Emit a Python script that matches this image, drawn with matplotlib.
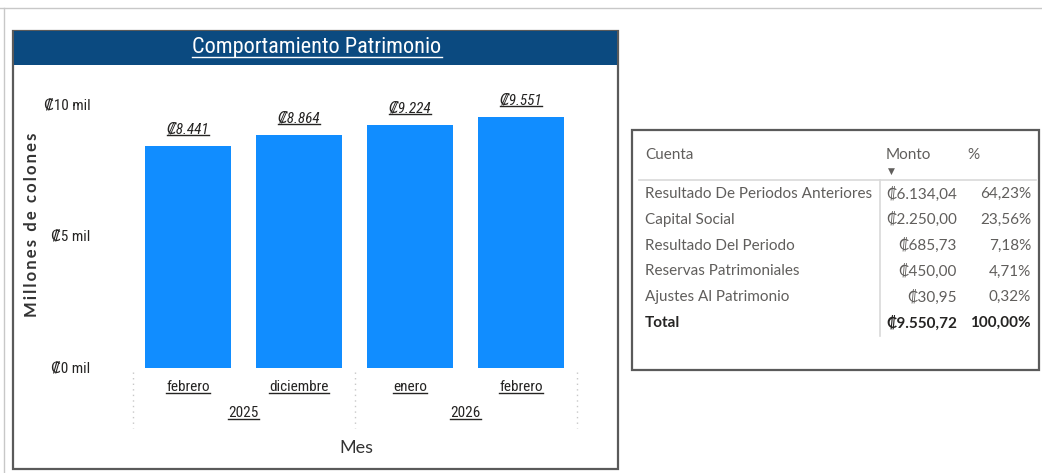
import matplotlib
matplotlib.use("Agg")
import matplotlib.pyplot as plt
from matplotlib.patches import Rectangle
from matplotlib.lines import Line2D
from matplotlib.transforms import blended_transform_factory

W, H = 1042, 473

# datos del grafico
meses = ["febrero", "diciembre", "enero", "febrero"]
anios = ["2025", "2026"]
meses_por_anio = [2, 2]
patrimonio = [8.441, 8.864, 9.224, 9.551]   # miles de millones
etiquetas = ["₡8.441", "₡8.864", "₡9.224", "₡9.551"]
yticks = [0, 5, 10]
ytick_labels = ["₡0 mil", "₡5 mil", "₡10 mil"]

# datos de la tabla
cuentas = ["Resultado De Periodos Anteriores", "Capital Social", "Resultado Del Periodo",
           "Reservas Patrimoniales", "Ajustes Al Patrimonio"]
montos = ["₡6.134,04", "₡2.250,00", "₡685,73", "₡450,00", "₡30,95"]
porcentajes = ["64,23%", "23,56%", "7,18%", "4,71%", "0,32%"]
total_monto = "₡9.550,72"
total_pct = "100,00%"

NARROW = ["Roboto Condensed", "DejaVu Sans"]
TABLA = ["Lato", "DejaVu Sans"]
BLUE = "#118DFF"


def fx(px):
    return px / W


def fy(py):
    return 1 - py / H


fig = plt.figure(figsize=(W / 100, H / 100), dpi=100)
fig.patch.set_facecolor("white")

# marco exterior
fig.add_artist(Line2D([0, 1], [fy(8), fy(8)], color="#c8c8c8", lw=1))
fig.add_artist(Line2D([fx(4), fx(4)], [fy(8), 0], color="#c8c8c8", lw=1))

# panel del grafico
fig.add_artist(Rectangle((fx(13), fy(469)), fx(618) - fx(13), fy(31) - fy(469),
                         transform=fig.transFigure, fill=False, ec="#5a5a5a", lw=1.6))
fig.add_artist(Rectangle((fx(14), fy(65)), fx(617) - fx(14), fy(31) - fy(65),
                         transform=fig.transFigure, color="#0B4A80", lw=0))
titulo = fig.text(fx(317), fy(48), "Comportamiento Patrimonio", color="white",
                  fontsize=16, family=NARROW, ha="center", va="center")

# ejes de barras
ax = fig.add_axes([fx(132.5), fy(368), fx(576.5) - fx(132.5), fy(105) - fy(368)])
x = list(range(len(meses)))
ax.bar(x, patrimonio, width=0.77, color=BLUE)
ax.set_xlim(-0.5, len(meses) - 0.5)
ax.set_ylim(0, 10)
for s in ax.spines.values():
    s.set_visible(False)
ax.set_xticks([])
ax.set_yticks([])

trans = blended_transform_factory(ax.transData, fig.transFigure)
subrayar = []

for t, lab in zip(yticks, ytick_labels):
    ax.text(-0.5 - 0.38, t, lab, ha="right", va="center", fontsize=11,
            family=NARROW, color="#252423")

for xi, v, lab in zip(x, patrimonio, etiquetas):
    t = ax.annotate(lab, (xi, v), xytext=(0, 7), textcoords="offset points",
                    ha="center", va="bottom", fontsize=11, family=NARROW,
                    style="italic", color="#252423")
    subrayar.append(t)

for xi, m in zip(x, meses):
    t = ax.text(xi, fy(387), m, transform=trans, ha="center", va="center",
                fontsize=11, family=NARROW, color="#252423")
    subrayar.append(t)

inicio = 0
seps = [-0.5]
for a, n in zip(anios, meses_por_anio):
    centro = inicio + (n - 1) / 2
    t = ax.text(centro, fy(413), a, transform=trans, ha="center", va="center",
                fontsize=11, family=NARROW, color="#252423")
    subrayar.append(t)
    inicio += n
    seps.append(inicio - 0.5)

for sx in seps:
    ax.add_line(Line2D([sx, sx], [fy(372), fy(428)], transform=trans,
                       color="#c8c8c8", lw=1, ls=(0, (1, 3)), clip_on=False))

fig.text(fx(356), fy(448), "Mes", ha="center", va="center", fontsize=13,
         family=TABLA, color="#333333")
fig.text(fx(32), fy(225), "\u2009".join("Millones de colones"),
         rotation=90, ha="center", va="center", fontsize=12,
         family=TABLA, weight="bold", color="#333333")

# tabla
fig.add_artist(Rectangle((fx(632), fy(370)), fx(1039) - fx(632), fy(130) - fy(370),
                         transform=fig.transFigure, fill=False, ec="#5a5a5a", lw=1.6))
gris = "#605E5C"
FS = 11
fig.text(fx(645), fy(155), "Cuenta", fontsize=FS, family=TABLA, color=gris, va="center")
fig.text(fx(886), fy(155), "Monto", fontsize=FS, family=TABLA, color=gris, va="center")
fig.text(fx(967), fy(155), "%", fontsize=FS, family=TABLA, color=gris, va="center")
fig.text(fx(891), fy(171), "▼", fontsize=6.5, family=["DejaVu Sans"], color=gris,
         ha="center", va="center")
fig.add_artist(Line2D([fx(639), fx(1036)], [fy(180), fy(180)], color="#d9d9d9", lw=1.2))
fig.add_artist(Line2D([fx(880), fx(880)], [fy(180), fy(336)], color="#d9d9d9", lw=1.2))

fila0, paso = 194, 25.8
for i, (c, m, p) in enumerate(zip(cuentas, montos, porcentajes)):
    yy = fy(fila0 + i * paso)
    fig.text(fx(645), yy, c, fontsize=FS, family=TABLA, color=gris, va="center")
    fig.text(fx(957), yy, m, fontsize=FS, family=TABLA, color=gris, va="center", ha="right")
    fig.text(fx(1031), yy, p, fontsize=FS, family=TABLA, color=gris, va="center", ha="right")
yy = fy(fila0 + len(cuentas) * paso)
fig.text(fx(645), yy, "Total", fontsize=FS, family=TABLA, color="#252423", va="center", weight="bold")
fig.text(fx(957), yy, total_monto, fontsize=FS, family=TABLA, color="#252423", va="center",
         ha="right", weight="bold")
fig.text(fx(1031), yy, total_pct, fontsize=FS, family=TABLA, color="#252423", va="center",
         ha="right", weight="bold")

# subrayados
fig.canvas.draw()
r = fig.canvas.get_renderer()
for t in subrayar + [titulo]:
    bb = t.get_window_extent(r)
    col = "white" if t is titulo else "#252423"
    yb = bb.y0 + 1.5
    fig.add_artist(Line2D([bb.x0 / W, bb.x1 / W], [yb / H, yb / H], color=col, lw=1))

fig.savefig("out.png", dpi=100)
